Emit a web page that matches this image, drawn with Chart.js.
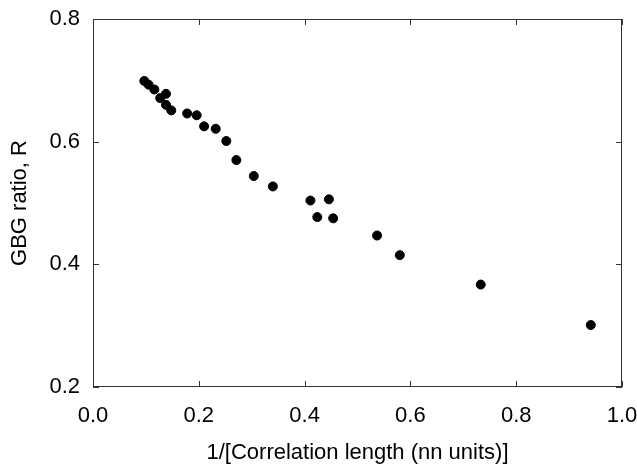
<!DOCTYPE html>
<html>
<head>
<meta charset="utf-8">
<script src="https://cdn.jsdelivr.net/npm/chart.js@4"></script>
<style>
  html, body { margin: 0; padding: 0; background: #fff; }
  #wrap { width: 637px; height: 468px; }
</style>
</head>
<body>
<div id="wrap"><canvas id="chart" width="637" height="468"></canvas></div>
<script>
// data
const xValues = [0.097, 0.105, 0.116, 0.127, 0.138, 0.138, 0.148, 0.178, 0.196, 0.210, 0.232, 0.252,
                 0.271, 0.304, 0.340, 0.411, 0.424, 0.446, 0.454, 0.537, 0.580, 0.733, 0.941];
const yValues = [0.699, 0.693, 0.685, 0.671, 0.678, 0.660, 0.651, 0.646, 0.643, 0.625, 0.621, 0.601,
                 0.570, 0.544, 0.527, 0.504, 0.477, 0.506, 0.475, 0.447, 0.415, 0.367, 0.301];
const xTicks = [0.0, 0.2, 0.4, 0.6, 0.8, 1.0];
const yTicks = [0.2, 0.4, 0.6, 0.8];

const points = xValues.map((x, i) => ({ x: x, y: yValues[i] }));

// frame box plus short inward ticks on all four sides
const framePlugin = {
    id: 'frame',
    afterDatasetsDraw(chart) {
        const ctx = chart.ctx;
        const a = chart.chartArea;
        const xs = chart.scales.x, ys = chart.scales.y;
        const len = 6;
        ctx.save();
        ctx.strokeStyle = '#333';
        ctx.lineWidth = 1;
        ctx.strokeRect(a.left + 0.5, a.top + 0.5, a.right - a.left - 1, a.bottom - a.top - 1);
        ctx.beginPath();
        xTicks.forEach(v => {
            const px = Math.round(xs.getPixelForValue(v)) + 0.5;
            ctx.moveTo(px, a.bottom); ctx.lineTo(px, a.bottom - len);
            ctx.moveTo(px, a.top); ctx.lineTo(px, a.top + len);
        });
        yTicks.forEach(v => {
            const py = Math.round(ys.getPixelForValue(v)) + 0.5;
            ctx.moveTo(a.left, py); ctx.lineTo(a.left + len, py);
            ctx.moveTo(a.right, py); ctx.lineTo(a.right - len, py);
        });
        ctx.stroke();
        ctx.restore();
    }
};

const textFont = { family: 'Liberation Sans, Arial, sans-serif', size: 22 };

new Chart(document.getElementById('chart'), {
    type: 'scatter',
    data: {
        datasets: [{
            data: points,
            backgroundColor: '#000',
            borderColor: '#000',
            pointRadius: 4.5,
            pointHoverRadius: 4.5
        }]
    },
    options: {
        responsive: false,
        animation: false,
        layout: { padding: { top: 19, right: 15, left: 0, bottom: 0 } },
        plugins: { legend: { display: false }, tooltip: { enabled: false } },
        scales: {
            x: {
                type: 'linear',
                min: 0, max: 1,
                afterFit(scale) {
                    scale.height = 81;
                    scale.paddingLeft = 0;
                    scale.paddingRight = 0;
                },
                afterBuildTicks(scale) { scale.ticks = xTicks.map(v => ({ value: v })); },
                grid: { display: false, drawTicks: false },
                border: { display: false },
                ticks: {
                    color: '#000',
                    font: textFont,
                    padding: 16,
                    maxRotation: 0,
                    callback: v => v.toFixed(1)
                },
                title: {
                    display: true,
                    text: '1/[Correlation length (nn units)]',
                    color: '#000',
                    font: textFont,
                    padding: { top: 0, bottom: 2 }
                }
            },
            y: {
                type: 'linear',
                min: 0.2, max: 0.8,
                afterFit(scale) {
                    scale.width = 93;
                    scale.paddingTop = 0;
                    scale.paddingBottom = 0;
                },
                afterBuildTicks(scale) { scale.ticks = yTicks.map(v => ({ value: v })); },
                grid: { display: false, drawTicks: false },
                border: { display: false },
                ticks: {
                    color: '#000',
                    font: textFont,
                    padding: 13,
                    callback: v => v.toFixed(1)
                },
                title: {
                    display: true,
                    text: 'GBG ratio, R',
                    color: '#000',
                    font: textFont,
                    padding: { top: 7, bottom: 0 }
                }
            }
        }
    },
    plugins: [framePlugin]
});
</script>
</body>
</html>
